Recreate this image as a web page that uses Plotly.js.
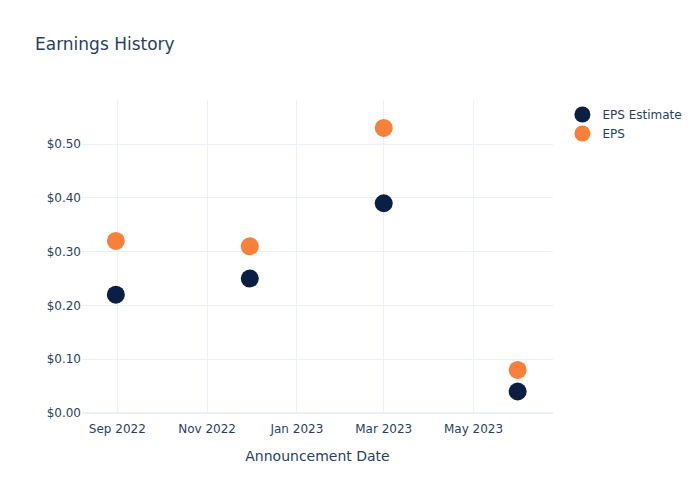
<!DOCTYPE html>
<html>
<head>
<meta charset="utf-8">
<script src="https://cdn.plot.ly/plotly-3.0.1.min.js"></script>
<style>html,body{margin:0;padding:0;background:#fff;}#chart{width:700px;height:500px;}</style>
</head>
<body>
<div id="chart"></div>
<script>
const dates = ["2022-08-31", "2022-11-30", "2023-03-01", "2023-05-31"];
const epsEstimate = [0.22, 0.25, 0.39, 0.04];
const epsActual = [0.32, 0.31, 0.53, 0.08];

const traces = [
  {
    x: dates, y: epsEstimate, name: "EPS Estimate", mode: "markers", type: "scatter",
    marker: {color: "#0b1f42", size: 18}
  },
  {
    x: dates, y: epsActual, name: "EPS", mode: "markers", type: "scatter",
    marker: {color: "#f7803a", size: 18}
  }
];

const gridColor = "#ebf0f8";
const layout = {
  width: 700, height: 500,
  font: {family: "DejaVu Sans, sans-serif", size: 12, color: "#2a3f5f"},
  title: {text: "Earnings History", font: {size: 17, color: "#2a3f5f"}, x: 0.05},
  paper_bgcolor: "#ffffff", plot_bgcolor: "#ffffff",
  margin: {l: 82, r: 147, t: 100, b: 87},
  xaxis: {
    type: "date",
    range: ["2022-08-08", "2023-06-24"],
    title: {text: "Announcement Date", font: {size: 14}, standoff: 15},
    gridcolor: gridColor, zeroline: false, showline: false,
    tickformat: "%b %Y", dtick: "M2", tick0: "2022-09-01",
    ticks: "outside", ticklen: 5, tickcolor: "rgba(0,0,0,0)", automargin: false
  },
  yaxis: {
    range: [0, 0.582],
    tickprefix: "$", tickformat: ".2f",
    gridcolor: gridColor, zeroline: true, zerolinecolor: gridColor, zerolinewidth: 2,
    showline: false, ticks: "", automargin: false
  },
  legend: {font: {size: 12}},
  showlegend: true
};

Plotly.newPlot("chart", traces, layout, {displayModeBar: false});
</script>
</body>
</html>
